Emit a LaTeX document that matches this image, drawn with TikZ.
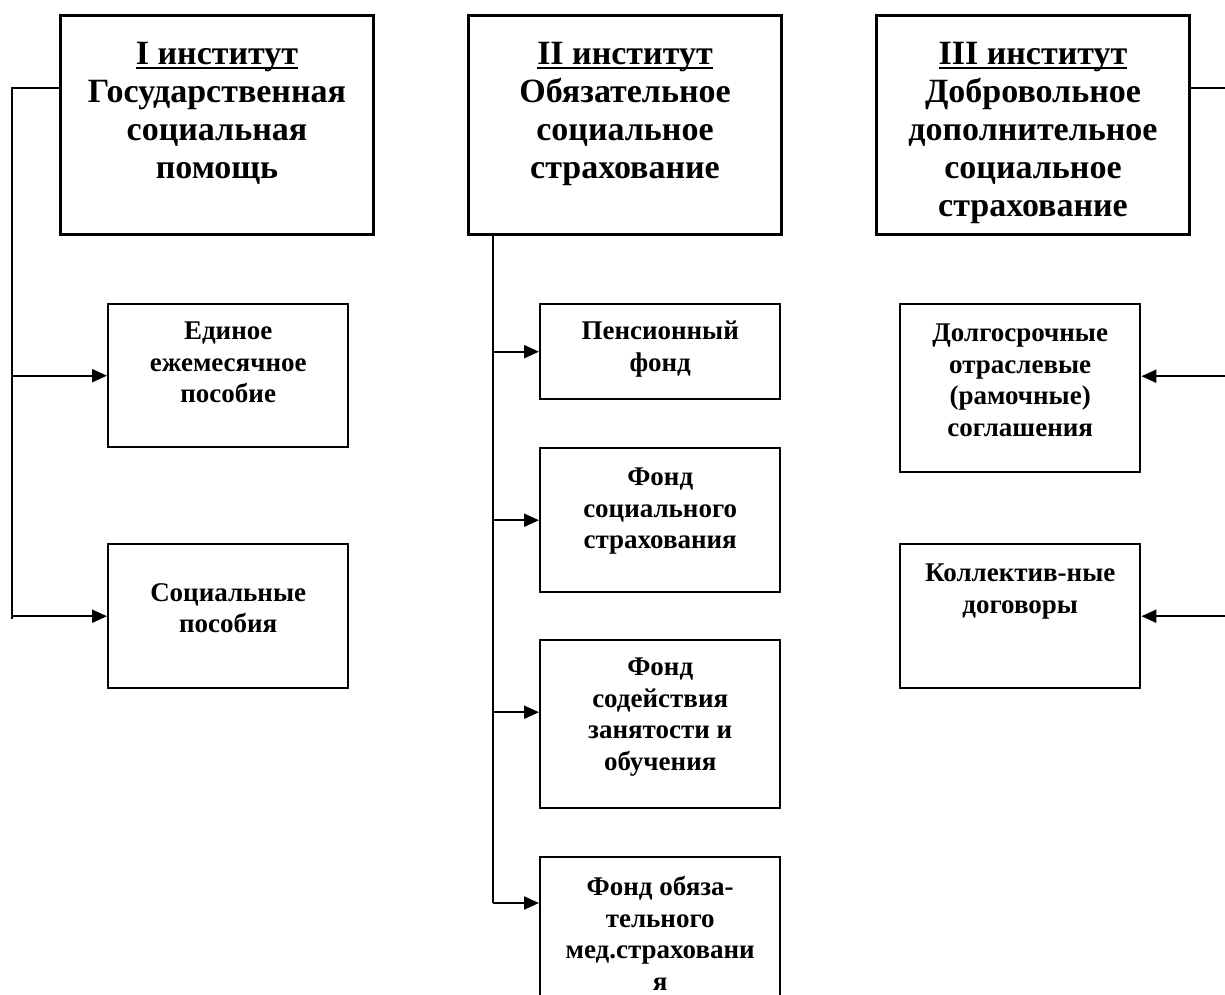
\documentclass[tikz,border=0pt]{standalone}
\usepackage{fontspec}
\setmainfont{Liberation Serif}
\usetikzlibrary{arrows.meta}
\newcommand\myul[1]{\setbox0\hbox{#1}\rlap{\rule[-5pt]{\wd0}{2.6pt}}\box0}
\tikzset{
  bigbox/.style={draw, line width=3pt, minimum width=313pt, minimum height=219pt, anchor=north west, inner sep=0pt},
  smallbox/.style={draw, line width=2.4pt, minimum width=240pt, anchor=north west, inner sep=0pt},
  bigtxt/.style={font=\bfseries\fontsize{34}{38}\selectfont, align=center, anchor=north, inner sep=0pt},
  smalltxt/.style={font=\bfseries\fontsize{27}{31.5}\selectfont, align=center, anchor=north, inner sep=0pt},
  link/.style={line width=2pt},
  arr/.style={line width=2.2pt, -{Triangle[length=15pt,width=13pt]}}
}
\begin{document}
\begin{tikzpicture}[x=1pt, y=-1pt]
\useasboundingbox (0,0) rectangle (1225,994);
% top boxes
\node[bigbox] (I) at (59,14) {};
\node[bigbox] (II) at (467,14) {};
\node[bigbox] (III) at (875,14) {};
\node[bigtxt] (It) at ([yshift=-28pt]I.north) {\myul{I институт}\\Государственная\\социальная\\помощь};
\node[bigtxt] (IIt) at ([yshift=-28pt]II.north) {\myul{II институт}\\Обязательное\\социальное\\страхование};
\node[bigtxt] (IIIt) at ([yshift=-28pt]III.north) {\myul{III институт}\\Добровольное\\дополнительное\\социальное\\страхование};
% column 1
\node[smallbox, minimum height=143pt] (e1) at (107,303) {};
\node[smallbox, minimum height=144pt] (e2) at (107,543) {};
\node[smalltxt] (e1t) at ([yshift=-19pt]e1.north) {Единое\\ежемесячное\\пособие};
\node[smalltxt] (e2t) at ([yshift=-40pt]e2.north) {Социальные\\пособия};
% column 2
\node[smallbox, minimum height=95pt] (f1) at (539,303) {};
\node[smallbox, minimum height=144pt] (f2) at (539,447) {};
\node[smallbox, minimum height=168pt] (f3) at (539,639) {};
\node[smallbox, minimum height=170pt] (f4) at (539,856) {};
\node[smalltxt] (f1t) at ([yshift=-18pt]f1.north) {Пенсионный\\фонд};
\node[smalltxt] (f2t) at ([yshift=-21pt]f2.north) {Фонд\\социального\\страхования};
\node[smalltxt] (f3t) at ([yshift=-19pt]f3.north) {Фонд\\содействия\\занятости и\\обучения};
\node[smalltxt] (f4t) at ([yshift=-20pt]f4.north) {Фонд обяза-\\тельного\\мед.страховани\\я};
% column 3
\node[smallbox, minimum height=168pt] (d1) at (899,303) {};
\node[smallbox, minimum height=144pt] (d2) at (899,543) {};
\node[smalltxt] (d1t) at ([yshift=-21pt]d1.north) {Долгосрочные\\отраслевые\\(рамочные)\\соглашения};
\node[smalltxt] (d2t) at ([yshift=-21pt]d2.north) {Коллектив-ные\\договоры};
% connectors column 1
\coordinate (c1) at (12,88);
\coordinate (c1b) at (12,619);
\draw[link] (c1 -| I.west) -- (c1) -- (c1b);
\draw[arr] (c1 |- e1.west) -- (e1.west);
\draw[arr] (c1 |- e2.west) -- (e2.west);
% connectors column 2
\coordinate (c2) at (493,233);
\coordinate (c2b) at (493,903);
\draw[link] (c2 |- II.south) -- (c2b);
\draw[arr] (c2 |- f1.west) -- (f1.west);
\draw[arr] (c2 |- f2.west) -- (f2.west);
\draw[arr] ([yshift=12pt]c2 |- f3.west) -- ([yshift=12pt]f3.west);
\draw[arr] (c2b) -- (c2b -| f4.west);
% connectors column 3
\coordinate (c3) at (1227,88);
\coordinate (c3b) at (1227,615);
\draw[link] (c3 -| III.east) -- (c3) -- (c3b);
\draw[arr] ([yshift=12pt]c3 |- d1.east) -- ([yshift=12pt]d1.east);
\draw[arr] (c3 |- d2.east) -- (d2.east);
\end{tikzpicture}
\end{document}
